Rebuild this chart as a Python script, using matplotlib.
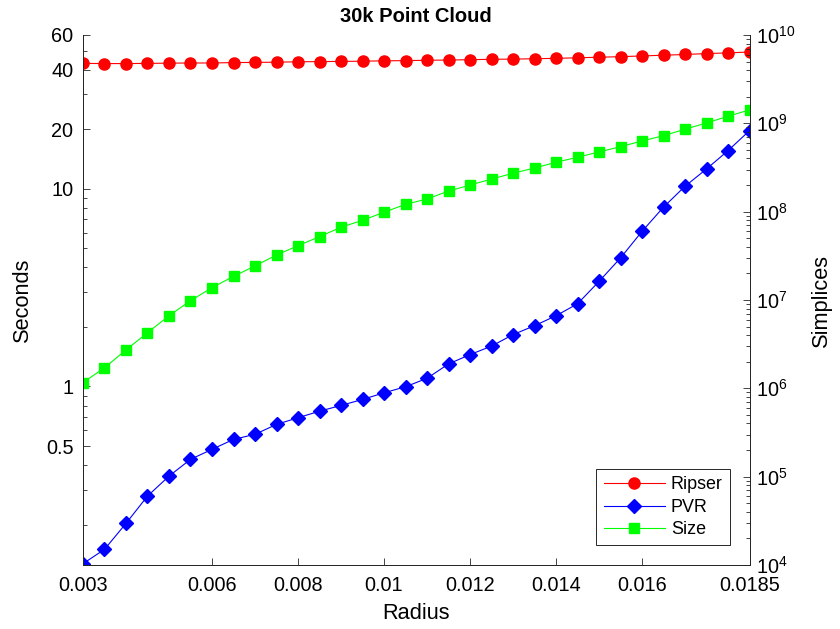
import matplotlib
matplotlib.use('Agg')
import matplotlib.pyplot as plt
from matplotlib.ticker import NullFormatter

plt.rcParams['font.family'] = ['Liberation Sans', 'DejaVu Sans']
plt.rcParams['mathtext.default'] = 'regular'

# data
radius = [0.003, 0.0035, 0.004, 0.0045, 0.005, 0.0055, 0.006, 0.0065,
          0.007, 0.0075, 0.008, 0.0085, 0.009, 0.0095, 0.01, 0.0105,
          0.011, 0.0115, 0.012, 0.0125, 0.013, 0.0135, 0.014, 0.0145,
          0.015, 0.0155, 0.016, 0.0165, 0.017, 0.0175, 0.018, 0.0185]

ripser = [43.1, 43.0, 43.0, 43.1, 43.2, 43.3, 43.3, 43.5,
          43.6, 43.7, 43.9, 44.0, 44.1, 44.2, 44.4, 44.5,
          44.7, 44.8, 45.0, 45.2, 45.3, 45.5, 45.7, 46.0,
          46.3, 46.6, 47.0, 47.4, 47.8, 48.3, 48.7, 49.2]

pvr = [0.127, 0.150, 0.203, 0.279, 0.352, 0.428, 0.481, 0.540,
       0.573, 0.643, 0.695, 0.750, 0.802, 0.860, 0.929, 0.997,
       1.10, 1.30, 1.45, 1.60, 1.83, 2.03, 2.28, 2.62,
       3.40, 4.47, 6.09, 8.08, 10.3, 12.6, 15.6, 19.7]

size = [1.16e6, 1.71e6, 2.72e6, 4.26e6, 6.64e6, 9.82e6, 1.38e7, 1.85e7,
        2.43e7, 3.23e7, 4.12e7, 5.21e7, 6.66e7, 7.98e7, 9.84e7, 1.21e8,
        1.39e8, 1.71e8, 2.00e8, 2.34e8, 2.72e8, 3.12e8, 3.62e8, 4.13e8,
        4.74e8, 5.44e8, 6.31e8, 7.25e8, 8.57e8, 1.01e9, 1.20e9, 1.42e9]

xticks = [0.003, 0.006, 0.008, 0.01, 0.012, 0.014, 0.016, 0.0185]
xticklabels = ['0.003', '0.006', '0.008', '0.01', '0.012', '0.014', '0.016', '0.0185']
yticks = [0.5, 1, 10, 20, 40, 60]
yticklabels = ['0.5', '1', '10', '20', '40', '60']
y2ticks = [1e4, 1e5, 1e6, 1e7, 1e8, 1e9, 1e10]

axcol = '#262626'

fig = plt.figure(figsize=(8.4, 6.29), dpi=100)
ax = fig.add_axes([0.0988, 0.1017, 0.7935, 0.8427])

l1, = ax.plot(radius, ripser, '-o', color='r', ms=8, lw=0.8, label='Ripser')
l2, = ax.plot(radius, pvr, '-D', color='b', ms=7.3, lw=0.8, label='PVR')

ax2 = ax.twinx()
l3, = ax2.plot(radius, size, '-s', color=(0, 1, 0), ms=7, lw=0.8, label='Size')

# left axis
ax.set_yscale('log')
ax.set_ylim(0.125, 60)
ax.set_yticks(yticks)
ax.set_yticklabels(yticklabels)
ax.yaxis.set_minor_formatter(NullFormatter())
ax.set_xlim(0.003, 0.0185)
ax.set_xticks(xticks)
ax.set_xticklabels(xticklabels)
ax.tick_params(which='both', direction='in', colors=axcol, width=0.6,
               labelsize=14.3, labelcolor='black', top=False, right=False)
ax.tick_params(which='major', length=5)
ax.tick_params(which='minor', length=3)
ax.tick_params(axis='y', pad=7)
ax.tick_params(axis='x', pad=8)

# right axis
ax2.set_yscale('log')
ax2.set_ylim(1e4, 1e10)
ax2.set_yticks(y2ticks)
ax2.yaxis.set_minor_formatter(NullFormatter())
ax2.tick_params(which='both', direction='in', colors=axcol, width=0.6,
                labelsize=14.3, labelcolor='black', pad=5)
ax2.tick_params(which='major', length=5)
ax2.tick_params(which='minor', length=3)

for a in (ax, ax2):
    a.spines['top'].set_visible(False)
    for s in a.spines.values():
        s.set_color(axcol)
        s.set_linewidth(0.7)

ax.set_xlabel('Radius', fontsize=15.7, labelpad=6)
ax.set_ylabel('Seconds', fontsize=15.7, labelpad=9)
ax2.set_ylabel('Simplices', fontsize=15.7, labelpad=11)
ax.set_title('30k Point Cloud', fontsize=14.5, fontweight='bold', pad=9)

leg = ax2.legend([l1, l2, l3], ['Ripser', 'PVR', 'Size'], loc='lower right',
                 fontsize=12.9, fancybox=False, framealpha=1, edgecolor=axcol,
                 borderaxespad=1.1, handlelength=3.4, handletextpad=0.35,
                 labelspacing=0.3, borderpad=0.4)
leg.get_frame().set_linewidth(0.7)

fig.savefig('out.png', dpi=100)
